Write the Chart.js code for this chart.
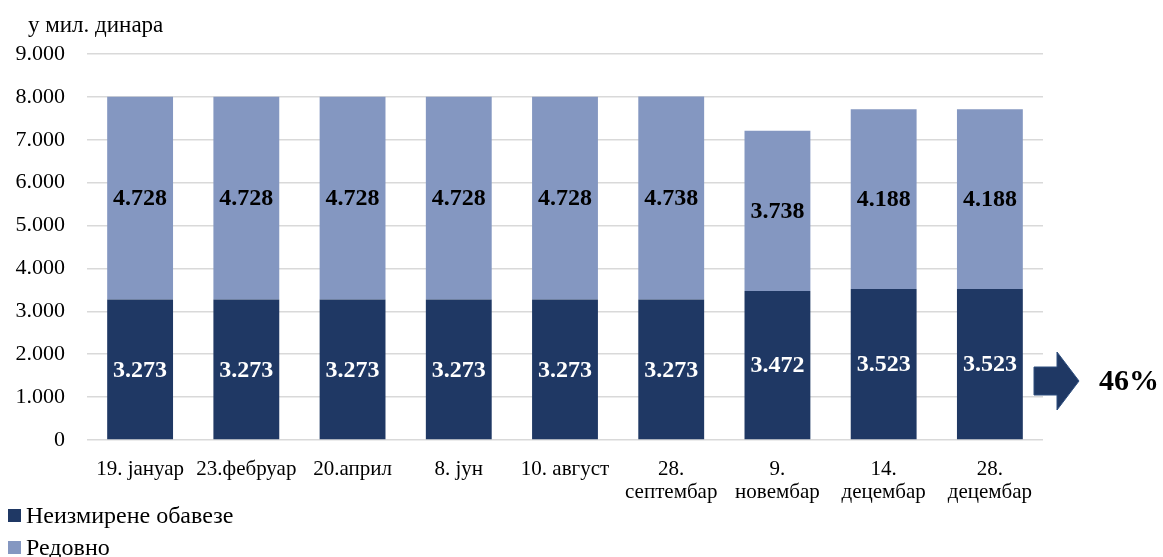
<!DOCTYPE html>
<html lang="sr">
<head>
    <meta charset="UTF-8">
    <title>Обавезе</title>
    <style>
        body {
            margin: 0;
            padding: 0;
            background-color: #ffffff;
            font-family: "Liberation Serif", "Times New Roman", serif;
        }
        #wrap {
            position: relative;
            width: 1163px;
            height: 557px;
            overflow: hidden;
        }
        .legend {
            position: absolute;
            left: 8px;
            font-size: 24px;
            color: #000;
            line-height: 28px;
            white-space: nowrap;
        }
        .legend span {
            display: inline-block;
            width: 13px;
            height: 13px;
            margin-right: 5px;
            vertical-align: 1px;
        }
    </style>
</head>
<body>
    <div id="wrap">
        <canvas id="myChart" width="1163" height="557"></canvas>
        <div class="legend" style="top:501px"><span style="background:#1F3864"></span>Неизмирене обавезе</div>
        <div class="legend" style="top:533px"><span style="background:#8497C1"></span>Редовно</div>
    </div>
    <script src="https://cdn.jsdelivr.net/npm/chart.js"></script>
    <script>
        const labels = [
            ['19. јануар'], ['23.фебруар'], ['20.април'], ['8. јун'], ['10. август'],
            ['28.', 'септембар'], ['9.', 'новембар'], ['14.', 'децембар'], ['28.', 'децембар']
        ];
        const neizmirene = [3273, 3273, 3273, 3273, 3273, 3273, 3472, 3523, 3523];
        const redovno = [4728, 4728, 4728, 4728, 4728, 4738, 3738, 4188, 4188];
        const unitLabel = 'у мил. динара';
        const shareLabel = '46%';

        const fmt = v => String(Math.round(v)).replace(/\B(?=(\d{3})+(?!\d))/g, '.');

        const extras = {
            id: 'extras',
            afterDatasetsDraw(chart) {
                const ctx = chart.ctx;
                ctx.save();
                ctx.textAlign = 'center';
                ctx.textBaseline = 'middle';
                ctx.font = 'bold 24px "Liberation Serif", serif';
                chart.data.datasets.forEach((ds, i) => {
                    chart.getDatasetMeta(i).data.forEach((bar, j) => {
                        const p = bar.getProps(['x', 'y', 'base'], true);
                        ctx.fillStyle = i === 0 ? '#ffffff' : '#000000';
                        ctx.fillText(fmt(ds.data[j]), p.x, (p.y + p.base) / 2 + 1);
                    });
                });
                // unit label
                ctx.textAlign = 'left';
                ctx.font = '23px "Liberation Serif", serif';
                ctx.fillStyle = '#000';
                ctx.fillText(unitLabel, 28, 26);
                // arrow
                const ax = 1034, ay = 381;
                ctx.beginPath();
                ctx.moveTo(ax, ay - 14);
                ctx.lineTo(ax + 23, ay - 14);
                ctx.lineTo(ax + 23, ay - 29);
                ctx.lineTo(ax + 45, ay);
                ctx.lineTo(ax + 23, ay + 29);
                ctx.lineTo(ax + 23, ay + 14);
                ctx.lineTo(ax, ay + 14);
                ctx.closePath();
                ctx.fillStyle = '#1F3864';
                ctx.fill();
                ctx.strokeStyle = '#2F4F7F';
                ctx.lineWidth = 1;
                ctx.stroke();
                ctx.font = 'bold 30px "Liberation Serif", serif';
                ctx.fillStyle = '#000';
                ctx.fillText(shareLabel, 1099, ay + 1);
                ctx.restore();
            }
        };

        new Chart(document.getElementById('myChart'), {
            type: 'bar',
            data: {
                labels: labels,
                datasets: [
                    { label: 'Неизмирене обавезе', data: neizmirene, backgroundColor: '#1F3864', borderWidth: 0 },
                    { label: 'Редовно', data: redovno, backgroundColor: '#8497C1', borderWidth: 0 }
                ]
            },
            options: {
                responsive: false,
                animation: false,
                layout: { padding: { left: 0, right: 120, top: 54, bottom: 0 } },
                datasets: { bar: { barPercentage: 0.62, categoryPercentage: 1 } },
                plugins: { legend: { display: false }, tooltip: { enabled: false } },
                scales: {
                    x: {
                        stacked: true,
                        grid: { display: false },
                        border: { display: false },
                        ticks: { color: '#000', font: { family: '"Liberation Serif", serif', size: 21, lineHeight: 1.1 }, padding: 10, maxRotation: 0, autoSkip: false },
                        afterFit(scale) { scale.height = 117; }
                    },
                    y: {
                        stacked: true,
                        min: 0,
                        max: 9000,
                        grid: { color: '#d9d9d9', lineWidth: 1.5, drawTicks: false },
                        border: { display: false },
                        ticks: { stepSize: 1000, color: '#000', padding: 22, font: { family: '"Liberation Serif", serif', size: 22 }, callback: v => fmt(v) },
                        afterFit(scale) { scale.width = 87; }
                    }
                }
            },
            plugins: [extras]
        });
    </script>
</body>
</html>
